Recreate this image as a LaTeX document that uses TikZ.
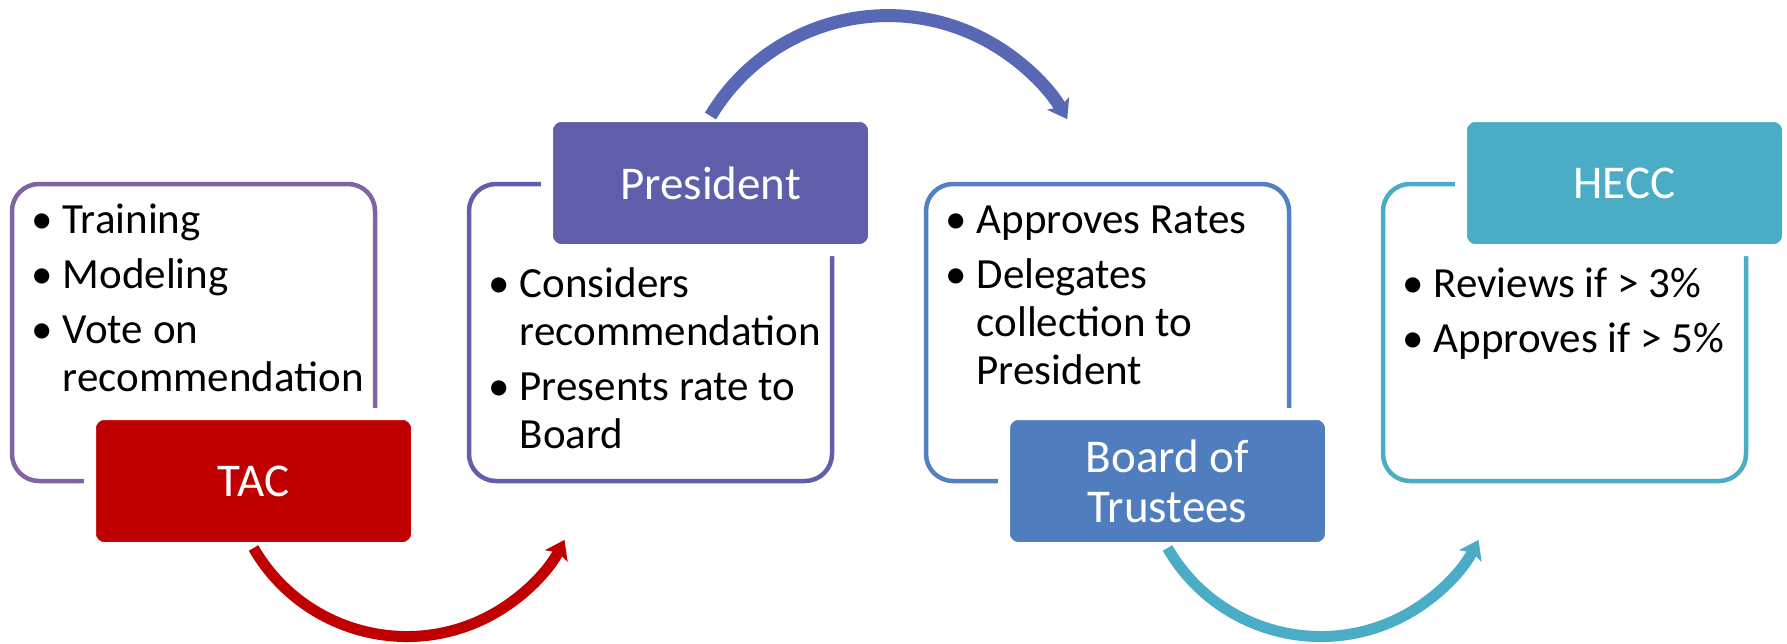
\documentclass[tikz,border=0pt]{standalone}
\usepackage{fontspec}
\setmainfont{Carlito}
\usetikzlibrary{arrows.meta}

\definecolor{tacred}{RGB}{192,0,0}
\definecolor{tacline}{RGB}{128,100,162}
\definecolor{preslabel}{RGB}{95,94,171}
\definecolor{presline}{RGB}{98,94,174}
\definecolor{boardlabel}{RGB}{79,125,189}
\definecolor{boardline}{RGB}{82,128,192}
\definecolor{hecc}{RGB}{75,172,198}
\definecolor{toparrow}{RGB}{88,104,180}

\newcommand{\bul}[1]{\strut\makebox[31pt][l]{\textbullet}#1}
\newcommand{\cont}[1]{\strut\hspace*{31pt}#1}

\begin{document}
\begin{tikzpicture}[x=1pt, y=1pt, line join=round,
	blockline/.style={draw, line width=4.5pt, rounded corners=27pt},
	titlebox/.style={draw=white, line width=12pt, rounded corners=14pt, minimum width=327pt, minimum height=134pt, inner sep=0pt, outer sep=0pt, text=white, align=center, font=\fontsize{47}{50}\selectfont},
	items/.style={anchor=north west, inner sep=0pt, align=left, font=\fontsize{43}{48}\selectfont},
	flowarrow/.style={line width=11pt, -{Stealth[length=18pt, width=25pt, inset=4pt]}}]
	
	\useasboundingbox (0,0) rectangle (1787,-643);
	
	% outlines of the four blocks
	\draw[blockline, tacline] (12,-184) rectangle (375,-481);
	\draw[blockline, presline] (469,-184) rectangle (832,-481);
	\draw[blockline, boardline] (926,-184) rectangle (1289,-481);
	\draw[blockline, hecc] (1383,-184) rectangle (1746,-481);
	
	% title boxes
	\node[titlebox, fill=tacred] (TAC) at (253.5,-481) {TAC};
	\node[titlebox, fill=preslabel] (President) at (710.5,-183) {President};
	\node[titlebox, fill=boardlabel] (Board) at (1167.5,-481) {Board of\\Trustees};
	\node[titlebox, fill=hecc] (HECC) at (1624.5,-183) {HECC};
	
	% bullet lists (first baseline 33.6 below the top)
	\node[items] (tacitems) at (31.5,-199.5) {\bul{Training}\\[7pt]\bul{Modeling}\\[7pt]\bul{Vote on}\\\cont{recommendation}};
	\node[items] (presitems) at (488.5,-263.5) {\bul{Considers}\\\cont{recommendation}\\[7pt]\bul{Presents rate to}\\\cont{Board}};
	\node[items] (boarditems) at (945.5,-199.5) {\bul{Approves Rates}\\[7pt]\bul{Delegates}\\\cont{collection to}\\\cont{President}};
	\node[items] (heccitems) at (1402.5,-263.5) {\bul{Reviews if > 3\%}\\[7pt]\bul{Approves if > 5\%}};
	
	% curved arrows
	\draw[flowarrow, tacred] (TAC.south) arc[start angle=210, end angle=333, radius=177];
	\draw[flowarrow, toparrow, line width=13pt] (President.north) arc[start angle=149, end angle=30, radius=207];
	\draw[flowarrow, hecc] (Board.south) arc[start angle=210, end angle=333, radius=177];
\end{tikzpicture}
\end{document}
